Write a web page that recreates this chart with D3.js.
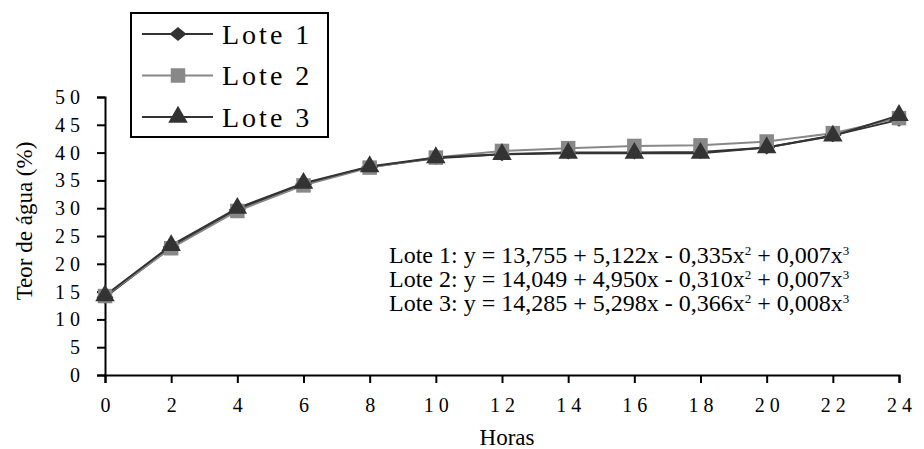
<!DOCTYPE html>
<html>
<head>
<meta charset="utf-8">
<script src="https://cdn.jsdelivr.net/npm/d3@7"></script>
<style>
  body { margin: 0; background: #fff; }
  svg { display: block; font-family: "Liberation Serif", "Times New Roman", serif; }
</style>
</head>
<body>
<div id="chart"></div>
<script>
"use strict";

// --- data ---
const horas = [0, 2, 4, 6, 8, 10, 12, 14, 16, 18, 20, 22, 24];
const lote1 = [14.0, 23.0, 29.7, 34.3, 37.4, 39.0, 39.7, 40.0, 40.0, 40.1, 40.9, 43.1, 45.9];
const lote2 = [14.2, 22.8, 29.5, 34.1, 37.3, 39.1, 40.3, 40.8, 41.2, 41.3, 42.0, 43.5, 46.2];
const lote3 = [14.3, 23.3, 30.0, 34.5, 37.5, 39.1, 39.7, 39.9, 39.9, 39.9, 40.9, 43.0, 46.7];
const yTicks = [0, 5, 10, 15, 20, 25, 30, 35, 40, 45, 50];
const xTicks = [0, 2, 4, 6, 8, 10, 12, 14, 16, 18, 20, 22, 24];
const equations = [
  ["Lote 1: y = 13,755 + 5,122x - 0,335x", "2", " + 0,007x", "3"],
  ["Lote 2: y = 14,049 + 4,950x - 0,310x", "2", " + 0,007x", "3"],
  ["Lote 3: y = 14,285 + 5,298x - 0,366x", "2", " + 0,008x", "3"]
];

// wide diamond like the spreadsheet marker
const wideDiamond = {
  draw(ctx, size) {
    const w = Math.sqrt(size) * 0.62, h = Math.sqrt(size) * 0.5;
    ctx.moveTo(0, -h); ctx.lineTo(w, 0); ctx.lineTo(0, h); ctx.lineTo(-w, 0); ctx.closePath();
  }
};

const series = [
  { name: "Lote 1", values: lote1, color: "#333", symbol: wideDiamond, size: 190 },
  { name: "Lote 2", values: lote2, color: "#888", symbol: d3.symbolSquare, size: 210 },
  { name: "Lote 3", values: lote3, color: "#333", symbol: d3.symbolTriangle, size: 165 }
];

const W = 924, H = 449;
const M = { left: 105, right: 25, top: 97, bottom: 74 };

const svg = d3.select("#chart").append("svg").attr("width", W).attr("height", H);

const x = d3.scaleLinear().domain([0, 24]).range([M.left, W - M.right]);
const y = d3.scaleLinear().domain([0, 50]).range([H - M.bottom, M.top]);

const spaced = d => String(d).split("").join(" ");

// axes
const xAxis = svg.append("g")
  .attr("transform", `translate(0,${y(0)})`)
  .call(d3.axisBottom(x).tickValues(xTicks).tickSize(8).tickPadding(15).tickFormat(spaced));
const yAxis = svg.append("g")
  .attr("transform", `translate(${x(0)},0)`)
  .call(d3.axisLeft(y).tickValues(yTicks).tickSize(8).tickPadding(17).tickFormat(spaced));

[xAxis, yAxis].forEach(a => {
  a.attr("font-family", null).attr("font-size", null);
  a.select(".domain").attr("stroke", "#000").attr("stroke-width", 2);
  a.selectAll(".tick line").attr("stroke", "#000").attr("stroke-width", 2);
  a.selectAll(".tick text").attr("fill", "#000").attr("font-size", 20);
});

// axis titles
svg.append("text")
  .attr("x", 507).attr("y", 445)
  .attr("text-anchor", "middle").attr("font-size", 23)
  .text("Horas");
svg.append("text")
  .attr("transform", `translate(32,221) rotate(-90)`)
  .attr("text-anchor", "middle").attr("font-size", 23)
  .text("Teor de água (%)");

// lines and markers
const line = d3.line().x((d, i) => x(horas[i])).y(d => y(d));

series.forEach(s => {
  svg.append("path")
    .datum(s.values)
    .attr("fill", "none")
    .attr("stroke", s.color)
    .attr("stroke-width", 2)
    .attr("d", line);
});
series.forEach(s => {
  svg.append("g").selectAll("path")
    .data(s.values)
    .enter().append("path")
    .attr("d", d3.symbol().type(s.symbol).size(s.size))
    .attr("transform", (d, i) => `translate(${x(horas[i])},${y(d)})`)
    .attr("fill", s.color);
});

// equations
const eq = svg.append("g").attr("font-size", 24);
equations.forEach((e, i) => {
  const t = eq.append("text").attr("x", 389).attr("y", 263 + i * 24);
  t.append("tspan").text(e[0]);
  t.append("tspan").attr("dy", -8).attr("font-size", 13).text(e[1]);
  t.append("tspan").attr("dy", 8).text(e[2]);
  t.append("tspan").attr("dy", -8).attr("font-size", 13).text(e[3]);
});

// legend
const leg = svg.append("g");
leg.append("rect")
  .attr("x", 131).attr("y", 13).attr("width", 197).attr("height", 124)
  .attr("fill", "#fff").attr("stroke", "#000").attr("stroke-width", 2);
series.forEach((s, i) => {
  const ly = 34 + i * 41.5;
  leg.append("line")
    .attr("x1", 142).attr("x2", 213).attr("y1", ly).attr("y2", ly)
    .attr("stroke", s.color).attr("stroke-width", 2);
  leg.append("path")
    .attr("d", d3.symbol().type(s.symbol).size(s.size))
    .attr("transform", `translate(178,${ly})`)
    .attr("fill", s.color);
  leg.append("text")
    .attr("x", 222).attr("y", ly).attr("dy", "0.35em")
    .attr("font-size", 28).attr("letter-spacing", 3)
    .text(s.name);
});
</script>
</body>
</html>
